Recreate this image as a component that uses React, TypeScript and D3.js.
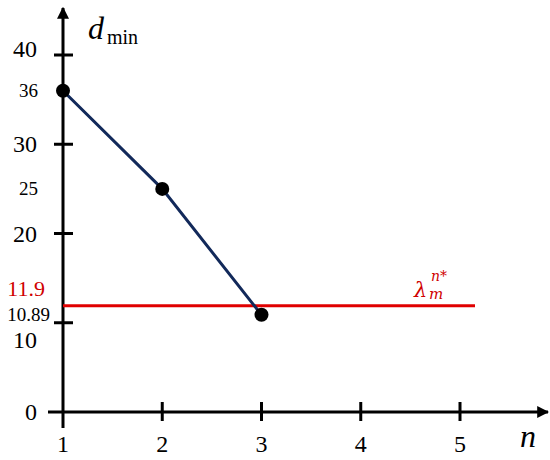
import { useRef, useEffect } from 'react';
import * as d3 from 'd3';

const nValues = [1, 2, 3];
const dMin = [36, 25, 10.89];
const xTicks = [1, 2, 3, 4, 5];
const yTicks = [0, 10, 20, 30, 40];
const threshold = 11.9;

const W = 550;
const H = 460;
const FONT = '"Liberation Serif", "Times New Roman", serif';

export default function App() {
  const svgRef = useRef<SVGSVGElement>(null);

  useEffect(() => {
    const svg = d3.select(svgRef.current);
    svg.selectAll('*').remove();

    const x = d3.scaleLinear().domain([1, 5]).range([63, 460]);
    const y = d3.scaleLinear().domain([0, 40]).range([412, 55]);

    const defs = svg.append('defs');
    defs
      .append('marker')
      .attr('id', 'arrow')
      .attr('viewBox', '0 0 10 10')
      .attr('refX', 9)
      .attr('refY', 5)
      .attr('markerWidth', 4)
      .attr('markerHeight', 4)
      .attr('markerUnits', 'strokeWidth')
      .attr('orient', 'auto')
      .append('path')
      .attr('d', 'M0,0 L10,5 L0,10 z')
      .attr('fill', '#000');

    // axes
    svg
      .append('line')
      .attr('x1', x(1))
      .attr('x2', x(1))
      .attr('y1', 428)
      .attr('y2', 8)
      .attr('stroke', '#000')
      .attr('stroke-width', 3)
      .attr('marker-end', 'url(#arrow)');

    svg
      .append('line')
      .attr('x1', 48)
      .attr('x2', 548)
      .attr('y1', y(0))
      .attr('y2', y(0))
      .attr('stroke', '#000')
      .attr('stroke-width', 3)
      .attr('marker-end', 'url(#arrow)');

    // y ticks
    svg
      .selectAll('.ytick')
      .data(yTicks.filter(d => d > 0))
      .enter()
      .append('line')
      .attr('x1', x(1) - 9)
      .attr('x2', x(1) + 10)
      .attr('y1', d => y(d))
      .attr('y2', d => y(d))
      .attr('stroke', '#000')
      .attr('stroke-width', 3);

    svg
      .selectAll('.ylab')
      .data(yTicks)
      .enter()
      .append('text')
      .attr('x', 37)
      .attr('y', d => y(d) + (d === 10 ? 25 : d === 40 ? 2 : 8))
      .attr('text-anchor', 'end')
      .style('font-family', FONT)
      .style('font-size', '24px')
      .text(d => d);

    // x ticks
    svg
      .selectAll('.xtick')
      .data(xTicks.filter(d => d > 1))
      .enter()
      .append('line')
      .attr('x1', d => x(d))
      .attr('x2', d => x(d))
      .attr('y1', y(0) - 10)
      .attr('y2', y(0) + 9)
      .attr('stroke', '#000')
      .attr('stroke-width', 3);

    svg
      .selectAll('.xlab')
      .data(xTicks)
      .enter()
      .append('text')
      .attr('x', d => x(d))
      .attr('y', 452)
      .attr('text-anchor', 'middle')
      .style('font-family', FONT)
      .style('font-size', '24px')
      .text(d => d);

    // threshold line
    svg
      .append('line')
      .attr('x1', x(1))
      .attr('x2', 475)
      .attr('y1', y(threshold))
      .attr('y2', y(threshold))
      .attr('stroke', '#e00000')
      .attr('stroke-width', 3);

    svg
      .append('text')
      .attr('x', 45)
      .attr('y', y(threshold) - 10)
      .attr('text-anchor', 'end')
      .style('font-family', FONT)
      .style('font-size', '22px')
      .attr('fill', '#d00000')
      .text(threshold);

    const red = (tx: number, ty: number, size: number, s: string) =>
      svg
        .append('text')
        .attr('x', tx)
        .attr('y', ty)
        .attr('fill', '#d00000')
        .style('font-family', '"DejaVu Serif", serif')
        .style('font-style', 'italic')
        .style('font-size', `${size}px`)
        .text(s);
    red(414, 297, 21, 'λ');
    red(429, 299, 15, 'm');
    red(431, 281, 14, 'n*');

    // data
    const pts = nValues.map((n, i) => [x(n), y(dMin[i])] as [number, number]);
    svg
      .append('path')
      .attr('d', d3.line()(pts))
      .attr('fill', 'none')
      .attr('stroke', '#12295a')
      .attr('stroke-width', 3);

    svg
      .selectAll('.pt')
      .data(pts)
      .enter()
      .append('circle')
      .attr('cx', d => d[0])
      .attr('cy', d => d[1])
      .attr('r', 7)
      .attr('fill', '#000');

    svg
      .selectAll('.vlab')
      .data(dMin)
      .enter()
      .append('text')
      .attr('x', (d, i) => (i === 2 ? 50 : 38))
      .attr('y', d => y(d) + 6)
      .attr('text-anchor', 'end')
      .style('font-family', FONT)
      .style('font-size', '19px')
      .text(d => d);

    // axis titles
    svg
      .append('text')
      .attr('x', 88)
      .attr('y', 39)
      .style('font-family', FONT)
      .style('font-size', '32px')
      .style('font-style', 'italic')
      .text('d');
    svg
      .append('text')
      .attr('x', 107)
      .attr('y', 44)
      .style('font-family', FONT)
      .style('font-size', '20px')
      .text('min');

    svg
      .append('text')
      .attr('x', 520)
      .attr('y', 447)
      .style('font-family', FONT)
      .style('font-size', '32px')
      .style('font-style', 'italic')
      .text('n');
  }, []);

  return (
    <svg
      ref={svgRef}
      width={W}
      height={H}
      style={{ position: 'absolute', left: 0, top: 0, background: '#fff' }}
    />
  );
}
